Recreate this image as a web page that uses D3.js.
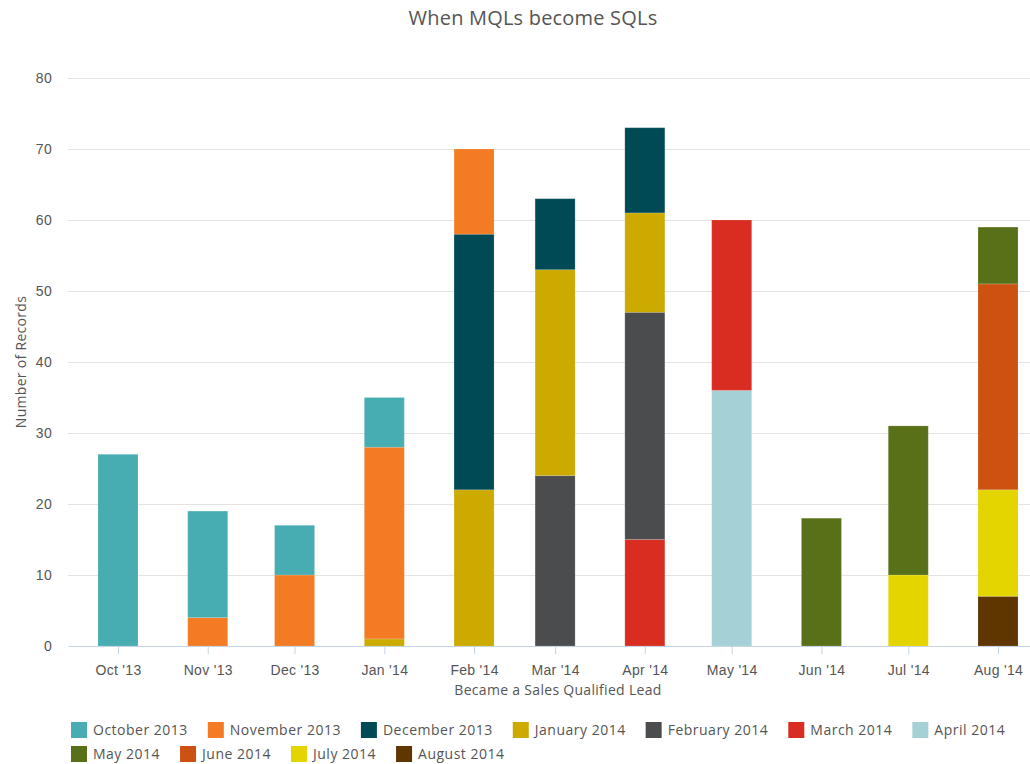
<!DOCTYPE html>
<html>
<head>
<meta charset="utf-8">
<script src="https://cdnjs.cloudflare.com/ajax/libs/d3/7.8.5/d3.min.js"></script>
<style>
  body { margin: 0; background: #fff; }
  svg { font-family: "Open Sans", Lato, sans-serif; }
  .grid line { stroke: #e3e3e3; }
  .grid .domain { display: none; }
  .xaxis .domain, .xaxis line { stroke: #c6d3e4; }
  .xaxis text, .yaxis text { fill: #555; font-size: 14px; letter-spacing: 0.3px; }
</style>
</head>
<body>
<svg id="chart" width="1030" height="764"></svg>
<script>
// ---------- DATA ----------
var months = ["2013-10", "2013-11", "2013-12", "2014-01", "2014-02", "2014-03",
              "2014-04", "2014-05", "2014-06", "2014-07", "2014-08"];
var seriesNames = ["October 2013", "November 2013", "December 2013", "January 2014",
                   "February 2014", "March 2014", "April 2014", "May 2014",
                   "June 2014", "July 2014", "August 2014"];
var seriesColors = ["#47adb2", "#f27b24", "#004a55", "#ccaa00", "#4b4c4e", "#d92d22",
                    "#a5d0d5", "#587119", "#cd5211", "#e4d500", "#5f3500"];
var oct13 = [27, 15, 7, 7, 0, 0, 0, 0, 0, 0, 0];
var nov13 = [0, 4, 10, 27, 12, 0, 0, 0, 0, 0, 0];
var dec13 = [0, 0, 0, 0, 36, 10, 12, 0, 0, 0, 0];
var jan14 = [0, 0, 0, 1, 22, 29, 14, 0, 0, 0, 0];
var feb14 = [0, 0, 0, 0, 0, 24, 32, 0, 0, 0, 0];
var mar14 = [0, 0, 0, 0, 0, 0, 15, 24, 0, 0, 0];
var apr14 = [0, 0, 0, 0, 0, 0, 0, 36, 0, 0, 0];
var may14 = [0, 0, 0, 0, 0, 0, 0, 0, 18, 21, 8];
var jun14 = [0, 0, 0, 0, 0, 0, 0, 0, 0, 0, 29];
var jul14 = [0, 0, 0, 0, 0, 0, 0, 0, 0, 10, 15];
var aug14 = [0, 0, 0, 0, 0, 0, 0, 0, 0, 0, 7];
var seriesValues = [oct13, nov13, dec13, jan14, feb14, mar14, apr14, may14, jun14, jul14, aug14];
var yTicks = [0, 10, 20, 30, 40, 50, 60, 70, 80];

// ---------- LAYOUT ----------
var margin = {top: 78, right: 0, bottom: 118, left: 68};
var svgWidth = 1030, svgHeight = 764;
var chartWidth = svgWidth - margin.left - margin.right;
var chartHeight = svgHeight - margin.top - margin.bottom;
var barWidth = 40;

var parseMonth = d3.timeParse("%Y-%m");
var dates = months.map(parseMonth);

// rows for the stack: one per month
var rows = dates.map(function(d, i) {
    var r = {date: d};
    seriesNames.forEach(function(name, j) { r[name] = seriesValues[j][i]; });
    return r;
});

// later months sit at the bottom of each bar
var stack = d3.stack().keys(seriesNames.slice().reverse());
var layers = stack(rows);

var dayMs = 864e5;
var xScale = d3.scaleTime()
    .domain([new Date(dates[0].getTime() - 17.27 * dayMs),
             new Date(dates[dates.length - 1].getTime() + 11.05 * dayMs)])
    .range([0, chartWidth]);

var yScale = d3.scaleLinear()
    .domain([0, 80])
    .range([chartHeight, 0]);

var color = d3.scaleOrdinal().domain(seriesNames).range(seriesColors);

var svg = d3.select("#chart");

svg.append("text")
    .attr("x", 533).attr("y", 25)
    .attr("text-anchor", "middle")
    .attr("fill", "#555")
    .style("font-size", "20px")
    .style("letter-spacing", "0.2px")
    .text("When MQLs become SQLs");

var chart = svg.append("g")
    .attr("transform", "translate(" + margin.left + "," + margin.top + ")");

// gridlines
chart.append("g")
    .attr("class", "grid")
    .call(d3.axisLeft(yScale).tickValues(yTicks.slice(1)).tickSize(-chartWidth).tickFormat(""));

// y labels
var yAxis = chart.append("g")
    .attr("class", "yaxis")
    .call(d3.axisLeft(yScale).tickValues(yTicks).tickSize(0).tickPadding(16));
yAxis.select(".domain").remove();

// bars
chart.selectAll("g.layer")
    .data(layers)
    .enter()
    .append("g")
    .attr("class", "layer")
    .attr("fill", function(d) { return color(d.key); })
    .selectAll("rect")
    .data(function(d) { return d.filter(function(p) { return p[1] - p[0] > 0; }); })
    .enter()
    .append("rect")
    .attr("x", function(d) { return xScale(d.data.date) - barWidth / 2; })
    .attr("y", function(d) { return yScale(d[1]); })
    .attr("width", barWidth)
    .attr("height", function(d) { return yScale(d[0]) - yScale(d[1]); })
    .attr("stroke", "rgba(255,255,255,0.15)")
    .attr("stroke-width", 1);

// x axis
var xAxis = chart.append("g")
    .attr("class", "xaxis")
    .attr("transform", "translate(0," + chartHeight + ")")
    .call(d3.axisBottom(xScale).tickValues(dates).tickFormat(d3.timeFormat("%b '%y"))
          .tickSize(8).tickSizeOuter(0).tickPadding(11));

// axis titles
chart.append("text")
    .attr("x", 490).attr("y", chartHeight + 49)
    .attr("text-anchor", "middle")
    .attr("fill", "#555")
    .style("font-size", "14px")
    .style("letter-spacing", "0.3px")
    .text("Became a Sales Qualified Lead");

chart.append("text")
    .attr("transform", "translate(" + (-42) + "," + (chartHeight / 2) + ") rotate(-90)")
    .attr("text-anchor", "middle")
    .attr("fill", "#555")
    .style("font-size", "14px")
    .style("letter-spacing", "0.3px")
    .text("Number of Records");

// legend
var legendRows = [seriesNames.slice(0, 7), seriesNames.slice(7)];
var legend = svg.append("g").attr("class", "legend");
legendRows.forEach(function(names, r) {
    var xPos = 71;
    names.forEach(function(name) {
        var item = legend.append("g")
            .attr("transform", "translate(" + xPos + "," + (722 + r * 24) + ")");
        item.append("rect")
            .attr("width", 16).attr("height", 16)
            .attr("fill", color(name));
        var t = item.append("text")
            .attr("x", 22).attr("y", 13)
            .attr("fill", "#555")
            .style("font-size", "14px")
            .style("letter-spacing", "0.5px")
            .text(name);
        xPos += 22 + t.node().getComputedTextLength() + 20;
    });
});
</script>
</body>
</html>
